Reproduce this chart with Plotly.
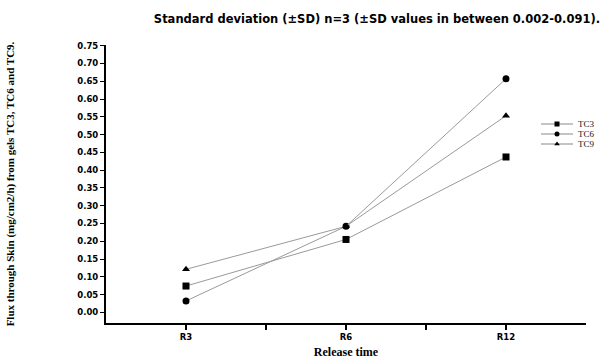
import plotly.graph_objects as go

# Release intervals and flux values per gel formulation
times = ["R3", "R6", "R12"]
tc3 = [0.074, 0.205, 0.437]
tc6 = [0.032, 0.242, 0.657]
tc9 = [0.121, 0.242, 0.553]

y_ticks = [round(0.05 * i, 2) for i in range(16)]

series = [
    ("TC3", tc3, "square"),
    ("TC6", tc6, "circle"),
    ("TC9", tc9, "triangle-up"),
]

LINE_GREY = "#9a9a9a"

fig = go.Figure()
for name, vals, sym in series:
    fig.add_trace(go.Scatter(
        x=[1, 2, 3], y=vals, name=name, mode="lines+markers",
        line=dict(color=LINE_GREY, width=1),
        marker=dict(symbol=sym, size=7, color="black"),
        showlegend=False,
    ))

# Compact key drawn on a small auxiliary axis pair (units = pixels)
for i, (name, vals, sym) in enumerate(series):
    row_y = 124 + 10 * i
    fig.add_trace(go.Scatter(
        x=[541, 557, 573], y=[row_y] * 3, mode="lines",
        line=dict(color="#b0b0b0", width=1.5),
        xaxis="x2", yaxis="y2", showlegend=False, hoverinfo="skip",
    ))
    fig.add_trace(go.Scatter(
        x=[557], y=[row_y], mode="markers",
        marker=dict(symbol=sym, size=5, color="black"),
        xaxis="x2", yaxis="y2", showlegend=False, hoverinfo="skip",
    ))
    fig.add_annotation(
        x=576, y=row_y, xref="x2", yref="y2", text=name, showarrow=False,
        xanchor="left", yanchor="middle",
        font=dict(family="Liberation Serif", size=9, color="#111111"),
    )

W, H = 607, 364
L, T, B = 106, 45, 41
plot_w = W - L
plot_h = H - T - B

fig.update_layout(
    width=W, height=H,
    margin=dict(l=L, r=0, t=T, b=B),
    paper_bgcolor="white", plot_bgcolor="white",
    showlegend=False,
    title=dict(text="<b>Standard deviation (±SD) n=3 (±SD values in between 0.002-0.091).</b>",
               x=0.621, xanchor="center", y=0.948, yanchor="middle",
               font=dict(family="DejaVu Sans", size=11.5, color="black")),
    xaxis=dict(
        domain=[0, 480 / plot_w], anchor="y",
        range=[0.5, 3.5], tickvals=[1, 1.5, 2, 2.5, 3],
        ticktext=["<b>R3</b>", "", "<b>R6</b>", "", "<b>R12</b>"],
        showline=True, linecolor="black", linewidth=2, ticks="outside",
        ticklen=5, tickwidth=1.5, tickcolor="black", showgrid=False, zeroline=False,
        tickfont=dict(family="DejaVu Sans", size=8.5, color="black"),
        title=dict(text="<b>Release time</b>", standoff=6,
                   font=dict(family="Liberation Serif", size=12, color="black")),
    ),
    yaxis=dict(
        range=[-0.03, 0.752], tickvals=y_ticks, anchor="x",
        ticktext=[f"<b>{v:.2f}</b>" for v in y_ticks],
        showline=True, linecolor="black", linewidth=2, ticks="outside",
        ticklen=4, tickwidth=1, tickcolor="black", showgrid=False, zeroline=False,
        tickfont=dict(family="DejaVu Sans", size=8.5, color="black"),
        title=dict(text="<b>Flux through Skin (mg/cm2/h) from gels TC3, TC6 and TC9.</b>", standoff=60,
                   font=dict(family="Liberation Serif", size=11, color="black")),
    ),
    xaxis2=dict(domain=[(536 - L) / plot_w, 1], range=[536, W], visible=False,
                fixedrange=True, anchor="y2"),
    yaxis2=dict(domain=[(H - B - 160) / plot_h, (H - B - 110) / plot_h], range=[160, 110],
                visible=False, fixedrange=True, anchor="x2"),
)

fig.write_html("out.html")
